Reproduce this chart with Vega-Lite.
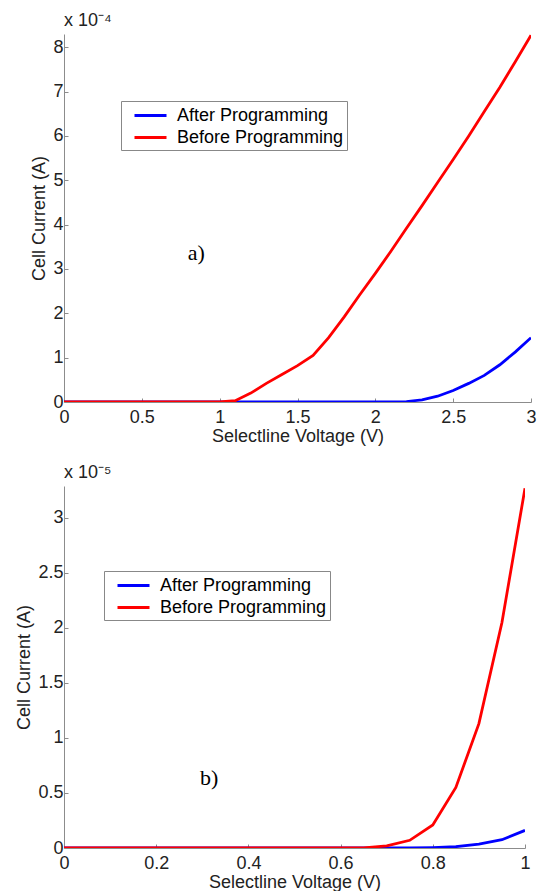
{
  "$schema": "https://vega.github.io/schema/vega-lite/v6.json",
  "padding": {"left": 15, "top": 12, "right": 5, "bottom": 0},
  "spacing": 84,
  "bounds": "flush",
  "config": {
    "view": {"stroke": null},
    "font": "Liberation Sans",
    "axis": {
      "grid": false,
      "domainColor": "#8c8c8c",
      "tickColor": "#8c8c8c",
      "tickSize": -4,
      "labelFont": "Liberation Sans",
      "labelFontSize": 18,
      "labelColor": "#222222",
      "titleFont": "Liberation Sans",
      "titleFontSize": 18,
      "titleFontWeight": "normal",
      "titleColor": "#222222",
      "labelFlush": false,
      "labelOverlap": false
    },
    "axisX": {"labelPadding": 10, "titlePadding": 1},
    "axisY": {"labelPadding": 5, "titlePadding": 4},
    "title": {"font": "Liberation Sans", "fontSize": 18, "fontWeight": "normal", "color": "#222222", "anchor": "start", "frame": "group", "offset": 0},
    "legend": {
      "orient": "none",
      "title": null,
      "symbolType": "M-1.6,0H1.6",
      "symbolStrokeWidth": 3,
      "symbolSize": 400,
      "labelFont": "Liberation Sans",
      "labelFontSize": 18,
      "labelColor": "#000000",
      "labelLimit": 300,
      "strokeColor": "#888888",
      "fillColor": "#ffffff",
      "padding": 3,
      "rowPadding": 1,
      "labelOffset": 15,
      "symbolOffset": 15
    }
  },
  "datasets": {
    "a": [
      {"v": 0.0, "I": 0, "series": "After Programming"},
      {"v": 0.1, "I": 0, "series": "After Programming"},
      {"v": 0.2, "I": 0, "series": "After Programming"},
      {"v": 0.3, "I": 0, "series": "After Programming"},
      {"v": 0.4, "I": 0, "series": "After Programming"},
      {"v": 0.5, "I": 0, "series": "After Programming"},
      {"v": 0.6, "I": 0, "series": "After Programming"},
      {"v": 0.7, "I": 0, "series": "After Programming"},
      {"v": 0.8, "I": 0, "series": "After Programming"},
      {"v": 0.9, "I": 0, "series": "After Programming"},
      {"v": 1.0, "I": 0, "series": "After Programming"},
      {"v": 1.1, "I": 0, "series": "After Programming"},
      {"v": 1.2, "I": 0, "series": "After Programming"},
      {"v": 1.3, "I": 0, "series": "After Programming"},
      {"v": 1.4, "I": 0, "series": "After Programming"},
      {"v": 1.5, "I": 0, "series": "After Programming"},
      {"v": 1.6, "I": 0, "series": "After Programming"},
      {"v": 1.7, "I": 0, "series": "After Programming"},
      {"v": 1.8, "I": 0, "series": "After Programming"},
      {"v": 1.9, "I": 0, "series": "After Programming"},
      {"v": 2.0, "I": 0, "series": "After Programming"},
      {"v": 2.1, "I": 0, "series": "After Programming"},
      {"v": 2.2, "I": 1e-6, "series": "After Programming"},
      {"v": 2.3, "I": 5e-6, "series": "After Programming"},
      {"v": 2.4, "I": 1.3e-5, "series": "After Programming"},
      {"v": 2.5, "I": 2.6e-5, "series": "After Programming"},
      {"v": 2.6, "I": 4.2e-5, "series": "After Programming"},
      {"v": 2.7, "I": 6.0e-5, "series": "After Programming"},
      {"v": 2.8, "I": 8.4e-5, "series": "After Programming"},
      {"v": 2.9, "I": 1.13e-4, "series": "After Programming"},
      {"v": 3.0, "I": 1.45e-4, "series": "After Programming"},
      {"v": 0.0, "I": 0, "series": "Before Programming"},
      {"v": 0.1, "I": 0, "series": "Before Programming"},
      {"v": 0.2, "I": 0, "series": "Before Programming"},
      {"v": 0.3, "I": 0, "series": "Before Programming"},
      {"v": 0.4, "I": 0, "series": "Before Programming"},
      {"v": 0.5, "I": 0, "series": "Before Programming"},
      {"v": 0.6, "I": 0, "series": "Before Programming"},
      {"v": 0.7, "I": 0, "series": "Before Programming"},
      {"v": 0.8, "I": 0, "series": "Before Programming"},
      {"v": 0.9, "I": 0, "series": "Before Programming"},
      {"v": 1.0, "I": 0, "series": "Before Programming"},
      {"v": 1.1, "I": 3e-6, "series": "Before Programming"},
      {"v": 1.2, "I": 2.0e-5, "series": "Before Programming"},
      {"v": 1.3, "I": 4.2e-5, "series": "Before Programming"},
      {"v": 1.4, "I": 6.2e-5, "series": "Before Programming"},
      {"v": 1.5, "I": 8.2e-5, "series": "Before Programming"},
      {"v": 1.6, "I": 1.05e-4, "series": "Before Programming"},
      {"v": 1.7, "I": 1.45e-4, "series": "Before Programming"},
      {"v": 1.8, "I": 1.92e-4, "series": "Before Programming"},
      {"v": 1.9, "I": 2.42e-4, "series": "Before Programming"},
      {"v": 2.0, "I": 2.9e-4, "series": "Before Programming"},
      {"v": 2.1, "I": 3.4e-4, "series": "Before Programming"},
      {"v": 2.2, "I": 3.92e-4, "series": "Before Programming"},
      {"v": 2.3, "I": 4.43e-4, "series": "Before Programming"},
      {"v": 2.4, "I": 4.95e-4, "series": "Before Programming"},
      {"v": 2.5, "I": 5.47e-4, "series": "Before Programming"},
      {"v": 2.6, "I": 6.0e-4, "series": "Before Programming"},
      {"v": 2.7, "I": 6.55e-4, "series": "Before Programming"},
      {"v": 2.8, "I": 7.1e-4, "series": "Before Programming"},
      {"v": 2.9, "I": 7.68e-4, "series": "Before Programming"},
      {"v": 3.0, "I": 8.27e-4, "series": "Before Programming"}
    ],
    "b": [
      {"v": 0.0, "I": 0, "series": "After Programming"},
      {"v": 0.05, "I": 0, "series": "After Programming"},
      {"v": 0.1, "I": 0, "series": "After Programming"},
      {"v": 0.15, "I": 0, "series": "After Programming"},
      {"v": 0.2, "I": 0, "series": "After Programming"},
      {"v": 0.25, "I": 0, "series": "After Programming"},
      {"v": 0.3, "I": 0, "series": "After Programming"},
      {"v": 0.35, "I": 0, "series": "After Programming"},
      {"v": 0.4, "I": 0, "series": "After Programming"},
      {"v": 0.45, "I": 0, "series": "After Programming"},
      {"v": 0.5, "I": 0, "series": "After Programming"},
      {"v": 0.55, "I": 0, "series": "After Programming"},
      {"v": 0.6, "I": 0, "series": "After Programming"},
      {"v": 0.65, "I": 0, "series": "After Programming"},
      {"v": 0.7, "I": 0, "series": "After Programming"},
      {"v": 0.75, "I": 0, "series": "After Programming"},
      {"v": 0.8, "I": 4e-8, "series": "After Programming"},
      {"v": 0.85, "I": 1.2e-7, "series": "After Programming"},
      {"v": 0.9, "I": 3.5e-7, "series": "After Programming"},
      {"v": 0.95, "I": 7.5e-7, "series": "After Programming"},
      {"v": 1.0, "I": 1.6e-6, "series": "After Programming"},
      {"v": 0.0, "I": 0, "series": "Before Programming"},
      {"v": 0.05, "I": 0, "series": "Before Programming"},
      {"v": 0.1, "I": 0, "series": "Before Programming"},
      {"v": 0.15, "I": 0, "series": "Before Programming"},
      {"v": 0.2, "I": 0, "series": "Before Programming"},
      {"v": 0.25, "I": 0, "series": "Before Programming"},
      {"v": 0.3, "I": 0, "series": "Before Programming"},
      {"v": 0.35, "I": 0, "series": "Before Programming"},
      {"v": 0.4, "I": 0, "series": "Before Programming"},
      {"v": 0.45, "I": 0, "series": "Before Programming"},
      {"v": 0.5, "I": 0, "series": "Before Programming"},
      {"v": 0.55, "I": 0, "series": "Before Programming"},
      {"v": 0.6, "I": 0, "series": "Before Programming"},
      {"v": 0.65, "I": 0, "series": "Before Programming"},
      {"v": 0.7, "I": 2e-7, "series": "Before Programming"},
      {"v": 0.75, "I": 7e-7, "series": "Before Programming"},
      {"v": 0.8, "I": 2.1e-6, "series": "Before Programming"},
      {"v": 0.85, "I": 5.5e-6, "series": "Before Programming"},
      {"v": 0.9, "I": 1.13e-5, "series": "Before Programming"},
      {"v": 0.95, "I": 2.05e-5, "series": "Before Programming"},
      {"v": 1.0, "I": 3.27e-5, "series": "Before Programming"}
    ],
    "annA": [{"v": 0.85, "I": 3.35e-4, "label": "a)"}],
    "annB": [{"v": 0.315, "I": 6.4e-6, "label": "b)"}]
  },
  "vconcat": [
    {
      "width": 467,
      "height": 368,
      "title": {"text": "x 10⁻⁴"},
      "layer": [
        {
          "data": {"name": "a"},
          "mark": {"type": "line", "strokeWidth": 2.8, "clip": true},
          "encoding": {
            "x": {"field": "v", "type": "quantitative", "scale": {"domain": [0, 3], "nice": false},
                  "axis": {"title": "Selectline Voltage (V)", "values": [0, 0.5, 1, 1.5, 2, 2.5, 3], "format": "~g"}},
            "y": {"field": "I", "type": "quantitative", "scale": {"domain": [0, 0.00083], "nice": false, "zero": true},
                  "axis": {"title": "Cell Current (A)", "values": [0, 0.0001, 0.0002, 0.0003, 0.0004, 0.0005, 0.0006, 0.0007, 0.0008],
                           "labelExpr": "format(datum.value * 1e4, '~g')"}},
            "color": {"field": "series", "type": "nominal",
                      "scale": {"domain": ["After Programming", "Before Programming"], "range": ["#0000ff", "#ff0000"]},
                      "legend": {"legendX": 57, "legendY": 67}}
          }
        },
        {
          "data": {"name": "annA"},
          "mark": {"type": "text", "font": "Liberation Serif", "fontSize": 22, "align": "center", "baseline": "middle", "color": "#000000"},
          "encoding": {
            "x": {"field": "v", "type": "quantitative"},
            "y": {"field": "I", "type": "quantitative"},
            "text": {"field": "label"}
          }
        }
      ]
    },
    {
      "width": 461,
      "height": 362,
      "title": {"text": "x 10⁻⁵"},
      "layer": [
        {
          "data": {"name": "b"},
          "mark": {"type": "line", "strokeWidth": 2.8, "clip": true},
          "encoding": {
            "x": {"field": "v", "type": "quantitative", "scale": {"domain": [0, 1], "nice": false},
                  "axis": {"title": "Selectline Voltage (V)", "values": [0, 0.2, 0.4, 0.6, 0.8, 1], "format": "~g"}},
            "y": {"field": "I", "type": "quantitative", "scale": {"domain": [0, 0.0000329], "nice": false, "zero": true},
                  "axis": {"title": "Cell Current (A)", "values": [0, 0.000005, 0.00001, 0.000015, 0.00002, 0.000025, 0.00003],
                           "labelExpr": "format(datum.value * 1e5, '~g')"}},
            "color": {"field": "series", "type": "nominal",
                      "scale": {"domain": ["After Programming", "Before Programming"], "range": ["#0000ff", "#ff0000"]},
                      "legend": {"legendX": 40, "legendY": 85}}
          }
        },
        {
          "data": {"name": "annB"},
          "mark": {"type": "text", "font": "Liberation Serif", "fontSize": 22, "align": "center", "baseline": "middle", "color": "#000000"},
          "encoding": {
            "x": {"field": "v", "type": "quantitative"},
            "y": {"field": "I", "type": "quantitative"},
            "text": {"field": "label"}
          }
        }
      ]
    }
  ],
  "resolve": {"scale": {"color": "independent"}, "legend": {"color": "independent"}}
}
